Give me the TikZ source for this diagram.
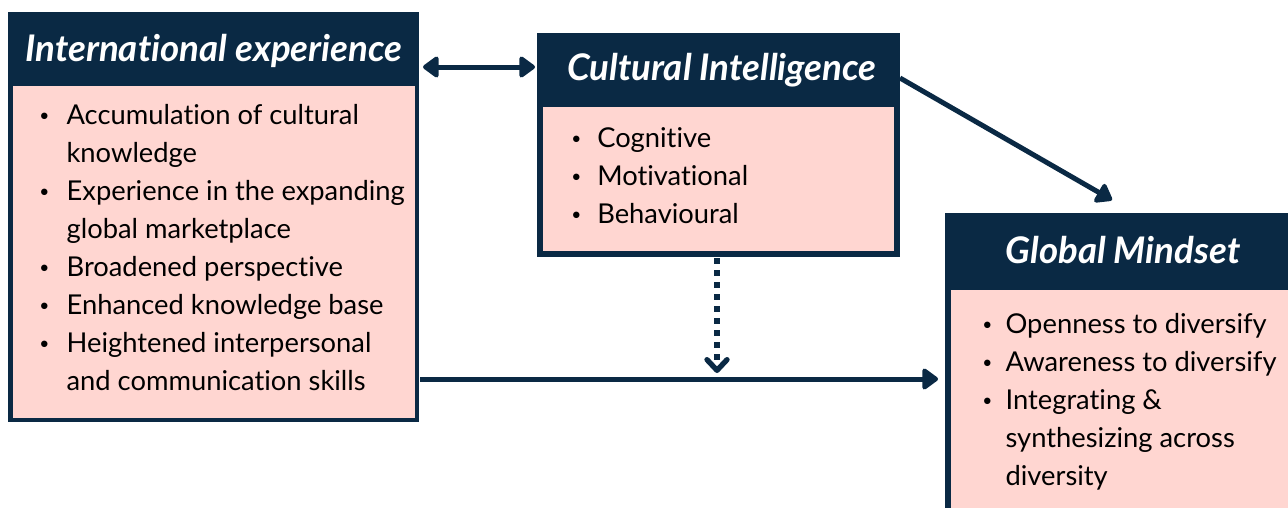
\documentclass[tikz,border=0pt]{standalone}
\usepackage{fontspec}
\setmainfont{Lato}[Ligatures={NoCommon}]
\usetikzlibrary{arrows.meta}
\definecolor{navy}{HTML}{0A2944}
\definecolor{blush}{HTML}{FFD6D1}
\newcommand{\dotmark}{{\fontsize{13}{13}\selectfont\raisebox{1.8pt}{•}}}
\tikzset{
  frame/.style={fill=navy, draw=none, inner sep=0pt, outer sep=0pt, anchor=north west},
  body/.style={fill=blush, draw=none, inner sep=0pt, outer sep=0pt, anchor=north west},
  title/.style={text=white, inner sep=0pt, anchor=base,
    font=\fontsize{27.5}{32}\selectfont\bfseries\itshape},
  items/.style={anchor=base west, inner sep=0pt, text=black,
    font=\fontsize{20.5}{28.5}\selectfont},
  link/.style={draw=navy, line width=3.75pt},
  tri/.style={-{Triangle[length=13pt, width=18pt, round]}},
  tritwo/.style={{Triangle[length=13pt, width=18pt, round]}-{Triangle[length=13pt, width=18pt, round]}},
  barb/.style={-{Straight Barb[length=8pt, width=15pt, round]}},
}
\begin{document}
\begin{tikzpicture}[x=0.75pt, y=-0.75pt]
  \clip (0,0) rectangle (1288,507);

  % International experience
  \node[frame, minimum width=308.25pt, minimum height=307.5pt] (ie) at (8,12) {};
  \node[body, minimum width=301.5pt, minimum height=249pt] (iebody) at (13,86) {};
  \node[title] (ietitle) at (214,61) {International experience};
  \node[items] (ielist) at (39,124) {%
    \begin{tabular}[t]{@{}p{20.5pt}@{}l@{}}
      \dotmark & Accumulation of cultural\\
               & knowledge\\
      \dotmark & Experience in the expanding\\
               & global marketplace\\
      \dotmark & Broadened perspective\\
      \dotmark & Enhanced knowledge base\\
      \dotmark & Heightened interpersonal\\
               & and communication skills
    \end{tabular}};

  % Cultural Intelligence
  \node[frame, minimum width=272.25pt, minimum height=168pt] (cq) at (537,33) {};
  \node[body, minimum width=263.25pt, minimum height=108pt] (cqbody) at (543,107) {};
  \node[title] (cqtitle) at (722,80) {Cultural Intelligence};
  \node[items] (cqlist) at (571,147) {%
    \begin{tabular}[t]{@{}p{19.5pt}@{}l@{}}
      \dotmark & Cognitive\\
      \dotmark & Motivational\\
      \dotmark & Behavioural
    \end{tabular}};

  % Global Mindset
  \node[frame, minimum width=266.25pt, minimum height=237.75pt] (gm) at (945,213) {};
  \node[body, minimum width=257.25pt, minimum height=180pt] (gmbody) at (951,290) {};
  \node[title] (gmtitle) at (1123,263) {Global Mindset};
  \node[items] (gmlist) at (982,333) {%
    \begin{tabular}[t]{@{}p{17.5pt}@{}l@{}}
      \dotmark & Openness to diversify\\
      \dotmark & Awareness to diversify\\
      \dotmark & Integrating \&\\
               & synthesizing across\\
               & diversity
    \end{tabular}};

  % connector end points
  \coordinate (ieR)  at (423,67);
  \coordinate (cqL)  at (535,67);
  \coordinate (cqR)  at (900,78);
  \coordinate (gmT)  at (1112,200);
  \coordinate (ieB)  at (420,379);
  \coordinate (gmL)  at (938,379);
  \coordinate (cqB)  at (717,258);
  \coordinate (mid)  at (717,373);

  % connectors
  \draw[link, tritwo] (ieR) -- (cqL);
  \draw[link, tri] (cqR) -- (gmT);
  \draw[link, tri] (ieB) -- (gmL);
  \draw[link, barb, line width=4pt, dash pattern=on 4.5pt off 4.5pt] (cqB) -- (mid);
\end{tikzpicture}
\end{document}
